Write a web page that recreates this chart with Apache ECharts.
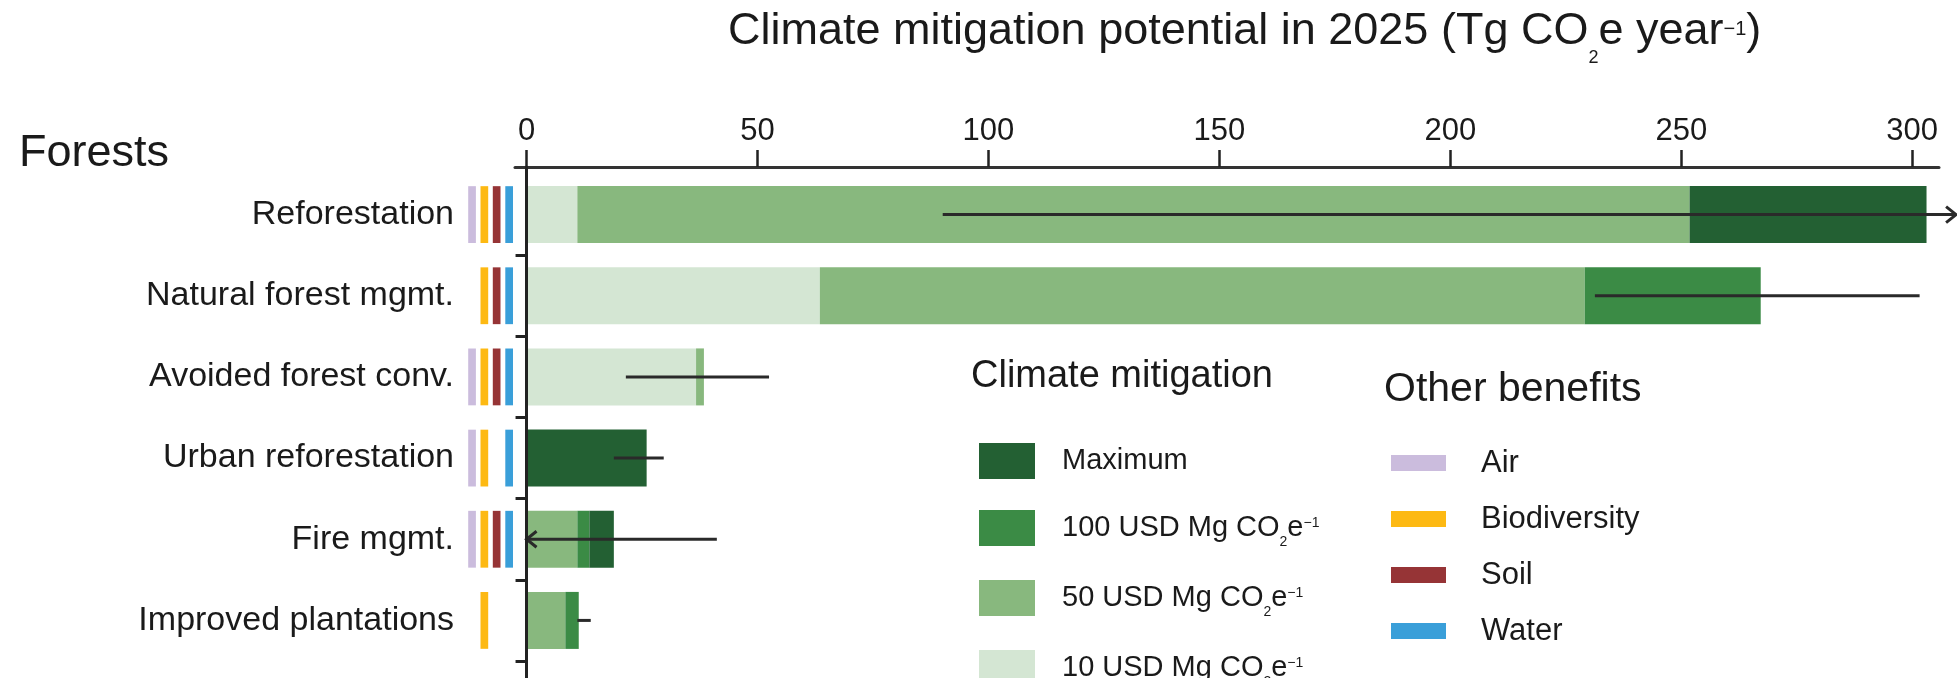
<!DOCTYPE html>
<html>
<head>
<meta charset="utf-8">
<script src="https://cdn.jsdelivr.net/npm/echarts@6/dist/echarts.min.js"></script>
<style>
  html, body { margin: 0; padding: 0; background: #fff; }
  #chart { width: 1957px; height: 678px; }
</style>
</head>
<body>
<div id="chart"></div>
<script>
// Forest pathways, top to bottom
const categories = ['Reforestation', 'Natural forest mgmt.', 'Avoided forest conv.',
                    'Urban reforestation', 'Fire mgmt.', 'Improved plantations'];

// Cumulative mitigation (Tg CO2e per year) available at each cost level
const at10usd  = [11.0,  63.5, 36.7,  0,    0,    0];
const at50usd  = [251.8, 229.1, 38.4, 0,   11.0,  8.4];
const at100usd = [251.8, 267.2, 38.4, 0,   13.6, 11.3];
const maximum  = [303.1, 267.2, 38.4, 26.0, 18.9, 11.3];

// Uncertainty range; arrows flag bounds that run off the axis
const rangeLow  = [90.1, 231.3, 21.5, 18.9, 0,    11.0];
const rangeHigh = [309.5, 301.6, 52.5, 29.7, 41.2, 13.9];
const lowArrow  = [false, false, false, false, true, false];
const highArrow = [true,  false, false, false, false, false];

// Co-benefits (1 = pathway delivers it)
const airBenefit   = [1, 0, 1, 1, 1, 0];
const bioBenefit   = [1, 1, 1, 1, 1, 1];
const soilBenefit  = [1, 1, 1, 0, 1, 0];
const waterBenefit = [1, 1, 1, 1, 1, 0];

const xTicks = [0, 50, 100, 150, 200, 250, 300];

const FONT = "'Liberation Sans', Arial, Helvetica, sans-serif";
const INK = '#1a1a1a';
const GREENS = { max: '#236033', usd100: '#3b8b45', usd50: '#88b87e', usd10: '#d4e6d3' };
const BENEFIT_COLORS = { Air: '#cbbcdd', Biodiversity: '#fdb913', Soil: '#963436', Water: '#3a9fd9' };

// stacked segments between successive cost levels
const seg10  = at10usd.slice();
const seg50  = at50usd.map((v, i) => +(v - at10usd[i]).toFixed(2));
const seg100 = at100usd.map((v, i) => +(v - at50usd[i]).toFixed(2));
const segMax = maximum.map((v, i) => +(v - at100usd[i]).toFixed(2));

function barSeries(name, data, color) {
  return {
    name, type: 'bar', stack: 'mitigation', data,
    barWidth: 57, itemStyle: { color }, xAxisIndex: 0, yAxisIndex: 0
  };
}

// little coloured ticks left of the axis, one column per benefit
const benefitColumns = [
  { name: 'Air', flags: airBenefit, dx: -54.5 },
  { name: 'Biodiversity', flags: bioBenefit, dx: -42.2 },
  { name: 'Soil', flags: soilBenefit, dx: -29.9 },
  { name: 'Water', flags: waterBenefit, dx: -17.4 }
];
function benefitSeries(col) {
  const data = [];
  col.flags.forEach((f, i) => { if (f) data.push([0, i]); });
  const color = BENEFIT_COLORS[col.name];
  return {
    name: col.name, type: 'custom', data, clip: false,
    encode: { x: 0, y: 1 },
    itemStyle: { color },
    renderItem(params, api) {
      const p = api.coord([0, api.value(1)]);
      const h = api.size([0, 1])[1] * 0.7;
      return {
        type: 'rect',
        shape: { x: p[0] + col.dx - 3.85, y: p[1] - h / 2, width: 7.7, height: h },
        style: { fill: color }
      };
    }
  };
}

const rangeData = categories.map((c, i) => [i, rangeLow[i], rangeHigh[i]]);
const rangeSeries = {
  name: 'range', type: 'custom', data: rangeData, clip: false, z: 4,
  encode: { x: [1, 2], y: 0 },
  renderItem(params, api) {
    const i = params.dataIndex;
    const c = api.value(0);
    const a = api.coord([api.value(1), c]);
    const b = api.coord([api.value(2), c]);
    const st = { stroke: '#2a2a2a', lineWidth: 3, fill: null };
    const kids = [{ type: 'line', shape: { x1: a[0], y1: a[1], x2: b[0], y2: b[1] }, style: st }];
    if (highArrow[i]) {
      kids.push({ type: 'polyline', shape: { points: [[b[0] - 10, b[1] - 8], [b[0], b[1]], [b[0] - 10, b[1] + 8]] }, style: st });
    }
    if (lowArrow[i]) {
      kids.push({ type: 'polyline', shape: { points: [[a[0] + 10, a[1] - 8], [a[0], a[1]], [a[0] + 10, a[1] + 8]] }, style: st });
    }
    return { type: 'group', children: kids };
  }
};

const climateLabels = {
  'Maximum': 'Maximum',
  '100 USD': '100 USD Mg CO{sub|2}e{sup|−1}',
  '50 USD': '50 USD Mg CO{sub|2}e{sup|−1}',
  '10 USD': '10 USD Mg CO{sub|2}e{sup|−1}'
};

const chart = echarts.init(document.getElementById('chart'), null, { renderer: 'canvas' });
chart.setOption({
  animation: false,
  backgroundColor: '#fff',
  title: [
    {
      text: 'Climate mitigation potential in 2025 (Tg CO{sub|2}e year{sup|−1})',
      left: 728, top: 0, padding: 0,
      textStyle: {
        fontFamily: FONT, fontSize: 45, fontWeight: 'normal', color: INK, lineHeight: 64,
        rich: {
          sub: { fontFamily: FONT, fontSize: 18, color: INK, lineHeight: 11, verticalAlign: 'top', padding: [49, 0, 0, 0] },
          sup: { fontFamily: FONT, fontSize: 20, color: INK, lineHeight: 11, verticalAlign: 'top', padding: [19, 0, 0, 0] }
        }
      }
    },
    { text: 'Forests', left: 19, top: 129, padding: 0,
      textStyle: { fontFamily: FONT, fontSize: 45, fontWeight: 'normal', color: INK, lineHeight: 50 } },
    { text: 'Climate mitigation', left: 971, top: 357, padding: 0,
      textStyle: { fontFamily: FONT, fontSize: 38, fontWeight: 'normal', color: INK, lineHeight: 40 } },
    { text: 'Other benefits', left: 1384, top: 370, padding: 0,
      textStyle: { fontFamily: FONT, fontSize: 41, fontWeight: 'normal', color: INK, lineHeight: 40 } }
  ],
  legend: [
    {
      data: ['Maximum', '100 USD', '50 USD', '10 USD'],
      orient: 'vertical', left: 979, top: 443, height: 300, padding: 0,
      icon: 'rect', itemWidth: 56, itemHeight: 36, itemGap: 31,
      selectedMode: false,
      formatter: name => '{g| }' + climateLabels[name],
      textStyle: {
        fontFamily: FONT, fontSize: 29, color: INK, lineHeight: 36,
        rich: {
          g: { width: 22 },
          sub: { fontFamily: FONT, fontSize: 14, color: INK, lineHeight: 3, verticalAlign: 'top', padding: [25, 0, 0, 0] },
          sup: { fontFamily: FONT, fontSize: 14, color: INK, lineHeight: 3, verticalAlign: 'top', padding: [6, 0, 0, 0] }
        }
      }
    },
    {
      data: ['Air', 'Biodiversity', 'Soil', 'Water'],
      orient: 'vertical', left: 1391, top: 445, height: 300, padding: 0,
      icon: 'rect', itemWidth: 55, itemHeight: 16, itemGap: 20,
      selectedMode: false,
      formatter: name => '{g| }' + name,
      textStyle: {
        fontFamily: FONT, fontSize: 31, color: INK, lineHeight: 36,
        rich: { g: { width: 30 } }
      }
    }
  ],
  grid: [
    { left: 515, right: 18, top: 174, bottom: 17 },
    { left: 515, right: 18, top: 167, bottom: 0 }
  ],
  xAxis: [
    {
      type: 'value', gridIndex: 0, position: 'top', offset: 7,
      min: -2.5, max: 305.8,
      axisLine: { show: true, onZero: false, lineStyle: { color: '#333', width: 3 } },
      axisTick: { show: true, customValues: xTicks, length: 17, lineStyle: { color: '#222', width: 2.5 } },
      axisLabel: { show: true, customValues: xTicks, margin: 20, fontFamily: FONT, fontSize: 31, color: INK },
      splitLine: { show: false }
    },
    { type: 'value', gridIndex: 1, min: -2.5, max: 305.8, show: false }
  ],
  yAxis: [
    {
      type: 'category', gridIndex: 0, data: categories, inverse: true,
      axisLine: { show: true, onZero: true, lineStyle: { color: '#222', width: 3 } },
      axisTick: { show: true, length: 11, interval: idx => idx !== 0, lineStyle: { color: '#222', width: 3 } },
      axisLabel: { margin: 61, fontFamily: FONT, fontSize: 34, color: INK },
      splitLine: { show: false }
    },
    {
      type: 'value', gridIndex: 1, min: 0, max: 1, z: 5,
      axisLine: { show: true, onZero: true, lineStyle: { color: '#222', width: 3 } },
      axisTick: { show: false }, axisLabel: { show: false }, splitLine: { show: false }
    }
  ],
  series: [
    barSeries('10 USD', seg10, GREENS.usd10),
    barSeries('50 USD', seg50, GREENS.usd50),
    barSeries('100 USD', seg100, GREENS.usd100),
    barSeries('Maximum', segMax, GREENS.max),
    ...benefitColumns.map(benefitSeries),
    rangeSeries
  ]
});
</script>
</body>
</html>
